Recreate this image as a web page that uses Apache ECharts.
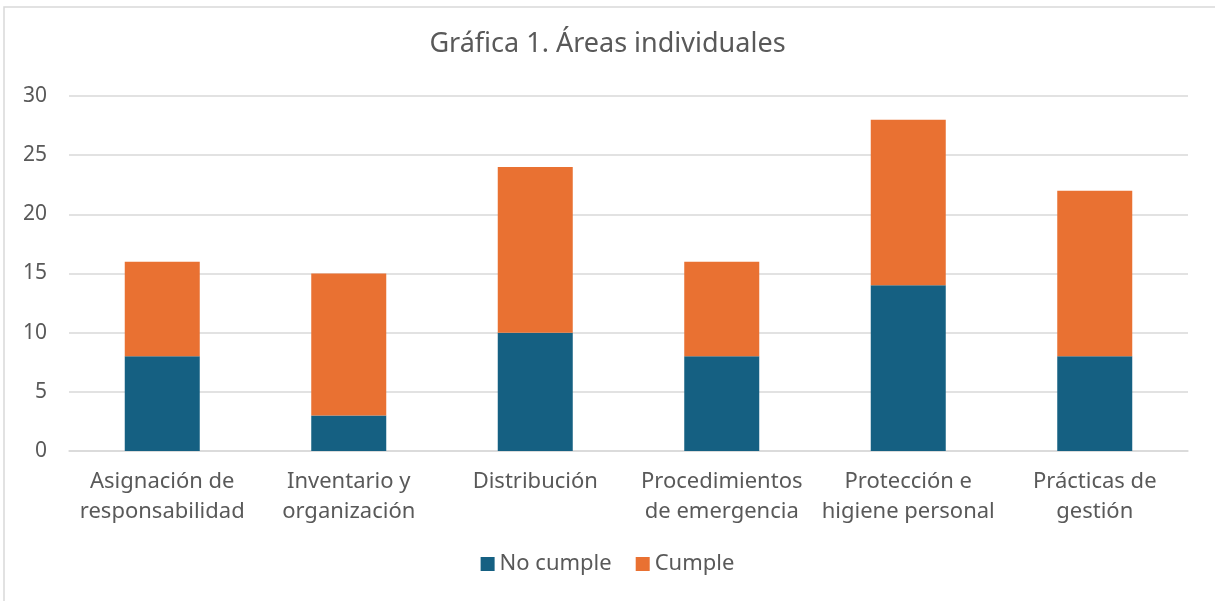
<!DOCTYPE html>
<html>
<head>
<meta charset="utf-8">
<script src="https://cdn.jsdelivr.net/npm/echarts@6/dist/echarts.min.js"></script>
<style>
  html, body { margin: 0; padding: 0; background: #fff; }
  #main { width: 1215px; height: 601px; }
</style>
</head>
<body>
<div id="main"></div>
<script>
const categories = [
  "Asignación de\nresponsabilidad",
  "Inventario y\norganización",
  "Distribución",
  "Procedimientos\nde emergencia",
  "Protección e\nhigiene personal",
  "Prácticas de\ngestión",
];
const noCumple = [8, 3, 10, 8, 14, 8];
const cumple = [8, 12, 14, 8, 14, 14];

const textColor = "#595959";
const font = "'Noto Sans', Roboto, sans-serif";

let myChart = echarts.init(document.getElementById("main"));

let option = {
  backgroundColor: "#fff",
  animation: false,
  textStyle: { fontFamily: font },
  title: {
    text: "Gráfica 1. Áreas individuales",
    left: "center",
    top: 26,
    textStyle: { color: textColor, fontSize: 27, fontWeight: "normal", fontFamily: font },
  },
  legend: {
    data: ["No cumple", "Cumple"],
    bottom: 21,
    left: "center",
    icon: "rect",
    itemWidth: 14,
    itemHeight: 14,
    itemGap: 24,
    itemStyle: { borderWidth: 0 },
    textStyle: { color: textColor, fontSize: 22, fontFamily: font },
  },
  grid: { left: 69, right: 27, top: 96, bottom: 150 },
  xAxis: {
    type: "category",
    data: categories,
    axisLine: { lineStyle: { color: "#d9d9d9", width: 1.5 } },
    axisTick: { show: false },
    axisLabel: { color: textColor, fontSize: 22, lineHeight: 30, margin: 16, interval: 0, fontFamily: font },
  },
  yAxis: {
    type: "value",
    min: 0,
    max: 30,
    interval: 5,
    axisLine: { show: false },
    axisTick: { show: false },
    axisLabel: { color: textColor, fontSize: 21, margin: 22, fontFamily: font },
    splitLine: { lineStyle: { color: "#d9d9d9", width: 1.5 } },
  },
  graphic: [
    {
      type: "rect",
      shape: { x: 4, y: 7, width: 1230, height: 620 },
      style: { fill: "none", stroke: "#d9d9d9", lineWidth: 1.5 },
      silent: true,
    },
  ],
  series: [
    {
      name: "No cumple",
      type: "bar",
      stack: "total",
      barWidth: 75,
      itemStyle: { color: "#156082" },
      data: noCumple,
    },
    {
      name: "Cumple",
      type: "bar",
      stack: "total",
      barWidth: 75,
      itemStyle: { color: "#e97132" },
      data: cumple,
    },
  ],
};

option && myChart.setOption(option);
</script>
</body>
</html>
